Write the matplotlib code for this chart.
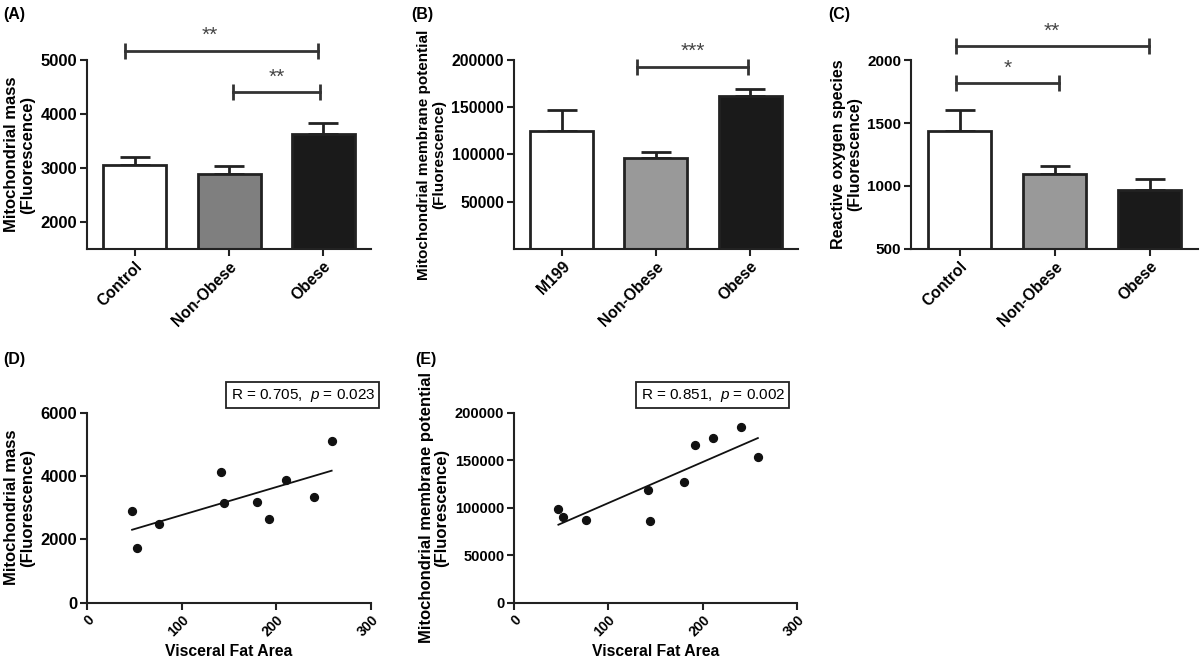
import numpy as np
import matplotlib
matplotlib.use("Agg")
import matplotlib.pyplot as plt

plt.rcParams['font.family'] = ['Liberation Sans', 'DejaVu Sans']
plt.rcParams['mathtext.fontset'] = 'custom'
plt.rcParams['mathtext.rm'] = 'Liberation Sans'
plt.rcParams['mathtext.it'] = 'Liberation Sans:italic'

# ---- data ----
groups_a = ["Control", "Non-Obese", "Obese"]
mass_mean = [3050, 2880, 3630]
mass_sem = [150, 160, 210]

groups_b = ["M199", "Non-Obese", "Obese"]
mmp_mean = [125000, 96000, 161500]
mmp_sem = [22000, 6400, 8000]

groups_c = ["Control", "Non-Obese", "Obese"]
ros_mean = [1434, 1092, 968]
ros_sem = [168, 66, 90]

# visceral fat area of the 10 subjects
vfa = [47.6, 52.9, 76.5, 141.7, 144.2, 179.8, 192.1, 209.7, 239.7, 258.4]
mass_pts = [2895, 1716, 2474, 4126, 3137, 3189, 2632, 3863, 3337, 5105]
vfa_e = [47.1, 52.4, 76.5, 141.7, 144.2, 180.3, 192.1, 210.5, 240.2, 258.6]
mmp_pts = [98250, 89830, 86670, 118250, 85970, 127020, 166320, 173690, 184570, 153000]

EDGE = '#222222'
BAR_A = ['white', '#7f7f7f', '#1a1a1a']
BAR_BC = ['white', '#999999', '#1a1a1a']


def style_axes(ax, ysize, xsize):
    ax.spines['top'].set_visible(False)
    ax.spines['right'].set_visible(False)
    for s in ('left', 'bottom'):
        ax.spines[s].set_linewidth(1.5)
        ax.spines[s].set_color(EDGE)
    ax.tick_params(width=1.5, length=5, color=EDGE, pad=2)
    ax.tick_params(axis='y', labelsize=ysize)
    ax.tick_params(axis='x', labelsize=xsize)
    for lab in ax.get_xticklabels() + ax.get_yticklabels():
        lab.set_fontweight('bold')


def bar_panel(ax, names, means, sems, colors, ylim, yticks, ylabel, ysize, lsize):
    x = np.arange(len(names))
    ax.bar(x, means, width=0.67, color=colors, edgecolor=EDGE, linewidth=2, zorder=2)
    ax.errorbar(x, means, yerr=[np.zeros(len(sems)), sems], fmt='none', ecolor=EDGE,
                elinewidth=2, capsize=11, capthick=2, zorder=1)
    ax.set_xlim(-0.51, 2.51)
    ax.set_ylim(*ylim)
    ax.set_yticks(yticks)
    ax.set_xticks(x)
    ax.set_xticklabels(names, rotation=45, ha='right', va='top', rotation_mode='anchor')
    ax.set_ylabel(ylabel, fontsize=lsize, fontweight='bold', linespacing=1.05)
    style_axes(ax, ysize, 11.3)


def bracket(ax, x1, x2, y, stars, xs=None):
    ax.plot([x1, x2], [y, y], color='#333333', lw=2, marker='|', markersize=11,
            markeredgewidth=2, clip_on=False)
    if xs is None:
        xs = (x1 + x2) / 2
    ax.annotate(stars, xy=(xs, y), xytext=(0, 4), textcoords='offset points',
                ha='center', va='bottom', fontsize=15, color='#444444',
                annotation_clip=False)


def scatter_panel(ax, xv, yv, ylim, yticks, ylabel, rtext, box_x, ysize, lsize):
    ax.scatter(xv, yv, s=32, color='#111111', zorder=3, clip_on=False)
    k, b = np.polyfit(xv, yv, 1)
    xx = np.array([min(xv), max(xv)])
    ax.plot(xx, k * xx + b, color='#111111', lw=1.3)
    ax.set_xlim(0, 300)
    ax.set_xticks([0, 100, 200, 300])
    ax.set_ylim(*ylim)
    ax.set_yticks(yticks)
    plt.setp(ax.get_xticklabels(), rotation=45, ha='right', va='top', rotation_mode='anchor')
    ax.set_xlabel("Visceral Fat Area", fontsize=11.3, fontweight='bold', labelpad=4)
    ax.set_ylabel(ylabel, fontsize=lsize, fontweight='bold', linespacing=1.05)
    ax.text(box_x, 1.093, rtext, transform=ax.transAxes, ha='center', va='center',
            fontsize=11, bbox=dict(boxstyle='square,pad=0.28', fc='white', ec='#222222', lw=1.3))
    style_axes(ax, ysize, 10)


fig = plt.figure(figsize=(12, 6.58), dpi=100)

ax_a = fig.add_axes([0.0725, 0.6216, 0.2367, 0.2872])
ax_b = fig.add_axes([0.4283, 0.6216, 0.2367, 0.2872])
ax_c = fig.add_axes([0.7592, 0.6216, 0.2392, 0.2872])
ax_d = fig.add_axes([0.0725, 0.0840, 0.2367, 0.2888])
ax_e = fig.add_axes([0.4283, 0.0840, 0.2358, 0.2888])

# (A) mitochondrial mass
bar_panel(ax_a, groups_a, mass_mean, mass_sem, BAR_A, (1500, 5000),
          [2000, 3000, 4000, 5000], "Mitochondrial mass\n(Fluorescence)", 12, 12)
bracket(ax_a, -0.11, 1.95, 5170, "**", xs=0.79)
bracket(ax_a, 1.04, 1.97, 4400, "**")

# (B) membrane potential
bar_panel(ax_b, groups_b, mmp_mean, mmp_sem, BAR_BC, (0, 200000),
          [50000, 100000, 150000, 200000], "Mitochondrial membrane potential\n(Fluorescence)",
          11.4, 11)
bracket(ax_b, 0.80, 1.98, 193000, "***")

# (C) ROS
bar_panel(ax_c, groups_c, ros_mean, ros_sem, BAR_BC, (500, 2000),
          [500, 1000, 1500, 2000], "Reactive oxygen species\n(Fluorescence)", 11, 11.5)
bracket(ax_c, -0.04, 1.99, 2108, "**")
bracket(ax_c, -0.04, 1.05, 1816, "*")

# (D) / (E) correlations with visceral fat
scatter_panel(ax_d, vfa, mass_pts, (0, 6000), [0, 2000, 4000, 6000],
              "Mitochondrial mass\n(Fluorescence)", "R = 0.705,  $p$ = 0.023", 0.76, 12, 12)
scatter_panel(ax_e, vfa_e, mmp_pts, (0, 200000), [0, 50000, 100000, 150000, 200000],
              "Mitochondrial membrane potential\n(Fluorescence)", "R = 0.851,  $p$ = 0.002",
              0.703, 10.5, 12)

# panel letters
for lab, x, y in [("(A)", 0.003, 0.99), ("(B)", 0.343, 0.99), ("(C)", 0.69, 0.99),
                  ("(D)", 0.003, 0.465), ("(E)", 0.346, 0.465)]:
    fig.text(x, y, lab, fontsize=11.5, fontweight='bold', ha='left', va='top')

fig.savefig("out.png", dpi=100)
